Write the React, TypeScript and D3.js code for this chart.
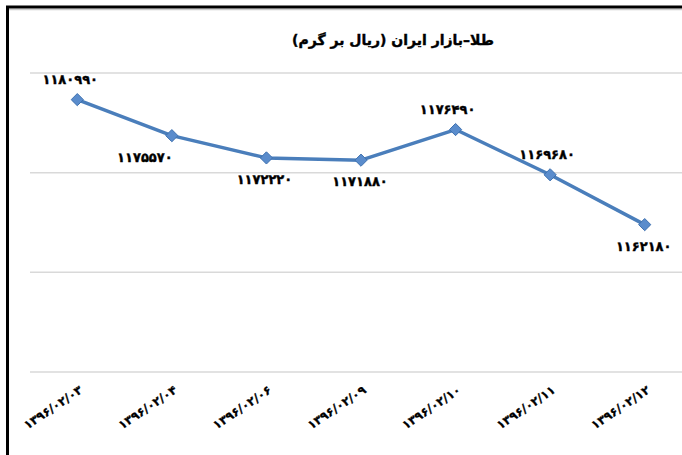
import * as d3 from 'd3';
import { useEffect, useRef } from 'react';

const dates = [
    '۱۳۹۶/۰۲/۰۳',
    '۱۳۹۶/۰۲/۰۴',
    '۱۳۹۶/۰۲/۰۶',
    '۱۳۹۶/۰۲/۰۹',
    '۱۳۹۶/۰۲/۱۰',
    '۱۳۹۶/۰۲/۱۱',
    '۱۳۹۶/۰۲/۱۲',
];
const prices = [1180990, 1175570, 1172220, 1171880, 1176490, 1169680, 1162180];
const yTicks = [1140000, 1155000, 1170000, 1185000];
const title = 'طلا–بازار ایران (ریال بر گرم)';

// where each data label sits relative to its point (Excel put them by hand)
const labelSide = [-1, 1, 1, 1, -1, -1, 1];
const labelNudge = [-7, -27, -2, -1, -8, -3, -1];

const faDigits = (s: string) => s.replace(/\d/g, (c) => '۰۱۲۳۴۵۶۷۸۹'[+c]);

export default function App() {
    const ref = useRef<SVGSVGElement | null>(null);

    useEffect(() => {
        if (!ref.current) return;
        const svg = d3.select(ref.current);
        svg.selectAll('*').remove();

        const width = 682;
        const height = 455;
        const font = '"DejaVu Sans", sans-serif';

        const x = d3.scaleBand().domain(dates).range([30, 692]);
        const y = d3.scaleLinear().domain([1140000, 1185000]).range([372, 73]);
        const cx = (d: string) => x(d)! + x.bandwidth() / 2;

        svg.append('rect').attr('width', width).attr('height', height).attr('fill', '#fff');

        // frame (only top and left visible in crop)
        svg.append('line').attr('x1', 6).attr('x2', width).attr('y1', 9.5).attr('y2', 9.5)
            .attr('stroke', '#ccc').attr('stroke-width', 1.5);
        svg.append('path').attr('d', `M7.5,${height} V7 H${width}`)
            .attr('fill', 'none').attr('stroke', '#000').attr('stroke-width', 3);

        // gridlines
        svg.append('g')
            .selectAll('line')
            .data(yTicks)
            .join('line')
            .attr('x1', 30)
            .attr('x2', width)
            .attr('y1', (d) => y(d))
            .attr('y2', (d) => y(d))
            .attr('stroke', '#d9d9d9')
            .attr('stroke-width', 1.5);

        // title
        svg.append('text')
            .attr('x', 393)
            .attr('y', 45)
            .attr('text-anchor', 'middle')
            .attr('direction', 'rtl')
            .style('font-family', font)
            .style('font-weight', 'bold')
            .style('font-size', '14px')
            .style('stroke', '#000')
            .style('stroke-width', 0.4)
            .text(title);

        // line
        const line = d3
            .line<number>()
            .x((_, i) => cx(dates[i]))
            .y((d) => y(d));

        svg.append('path')
            .datum(prices)
            .attr('d', line)
            .attr('fill', 'none')
            .attr('stroke', '#4a7ebb')
            .attr('stroke-width', 3.5)
            .attr('stroke-linejoin', 'round');

        // diamond markers
        svg.append('g')
            .selectAll('path')
            .data(prices)
            .join('path')
            .attr('d', d3.symbol(d3.symbolDiamond2, 95)())
            .attr('transform', (d, i) => `translate(${cx(dates[i])},${y(d)})`)
            .attr('fill', '#5a8ccc')
            .attr('stroke', '#3f72b0')
            .attr('stroke-width', 1);

        // data labels
        svg.append('g')
            .selectAll('text')
            .data(prices)
            .join('text')
            .attr('x', (_, i) => cx(dates[i]) + labelNudge[i])
            .attr('y', (d, i) => y(d) + labelSide[i] * 21 + 5)
            .attr('text-anchor', 'middle')
            .style('font-family', font)
            .style('font-weight', 'bold')
            .style('font-size', '13px')
            .style('letter-spacing', '-1.3px')
            .style('stroke', '#000')
            .style('stroke-width', 0.4)
            .text((d) => faDigits(String(d)));

        // x axis labels
        svg.append('g')
            .selectAll('text')
            .data(dates)
            .join('text')
            .attr('transform', (d) => `translate(${cx(d) + 6},${392}) rotate(-34)`)
            .attr('text-anchor', 'end')
            .style('font-family', font)
            .style('font-weight', 'bold')
            .style('font-size', '12px')
            .style('letter-spacing', '-0.6px')
            .style('stroke', '#000')
            .style('stroke-width', 0.3)
            .text((d) => d);
    }, []);

    return (
        <div style={{ position: 'fixed', left: 0, top: 0 }}>
            <svg ref={ref} width={682} height={455} style={{ display: 'block' }} />
        </div>
    );
}
